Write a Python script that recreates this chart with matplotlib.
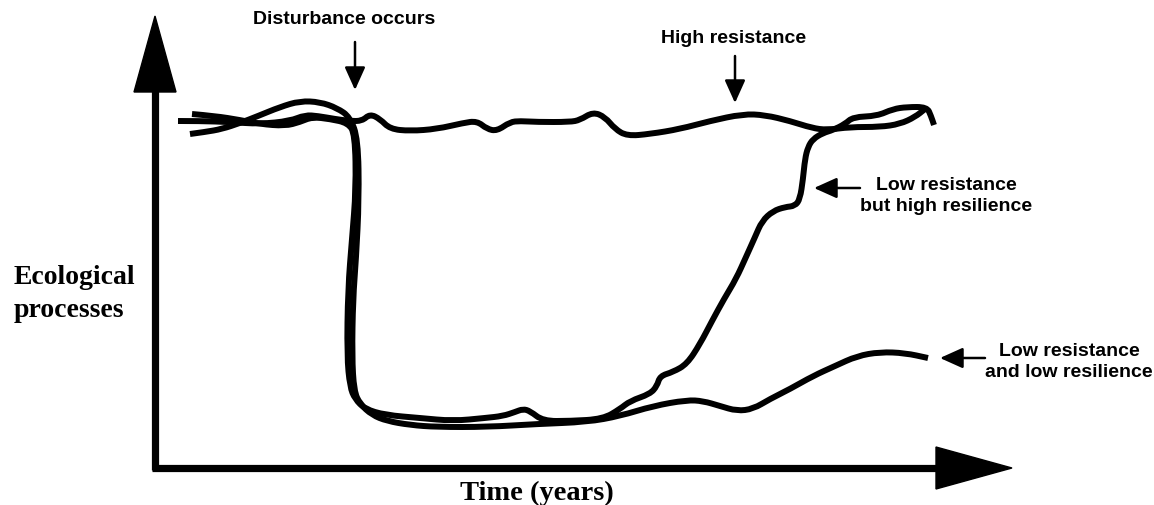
import matplotlib.pyplot as plt
from matplotlib.patches import Polygon, PathPatch
from matplotlib.path import Path

# curves, in pixel units (x right, y down)
high_x = [178, 200, 230, 260, 290, 305, 318, 335, 350, 362, 370, 380, 390, 410, 437, 463, 477, 487, 497, 510,
          520, 537, 570, 580, 593, 605, 615, 627, 650, 680, 710, 743, 765, 790, 812, 827, 850, 880, 900, 915, 925]
high_y = [122, 122, 123, 125, 122, 116, 117, 120, 122, 122, 115, 120, 130, 132, 130, 124, 122, 130, 132, 123,
          122, 123, 123, 121, 113, 118, 130, 137, 135, 130, 122, 115, 116, 122, 129, 131, 128, 128, 125, 118, 110]

resil_x = [192, 215, 240, 260, 285, 300, 312, 330, 348, 355, 356, 352, 348, 347, 350, 355, 365, 385, 420, 453,
           485, 503, 515, 523, 530, 543, 570, 603, 620, 630, 650, 657, 660, 673, 687, 700, 712, 724, 736, 746,
           755, 762, 773, 785, 795, 800, 803, 805, 808, 813, 823, 833, 845, 853, 877, 893, 907, 927, 931, 934]
resil_y = [115, 117, 121, 125, 127, 123, 118, 120, 124, 135, 190, 240, 290, 357, 388, 400, 410, 416, 419, 422,
           419, 417, 413, 410, 412, 422, 422, 420, 410, 402, 395, 387, 377, 373, 365, 345, 322, 300, 280, 258,
           238, 222, 212, 208, 207, 200, 180, 160, 148, 140, 134, 131, 125, 118, 117, 110, 108, 108, 117, 126]

low_x = [190, 205, 222, 240, 258, 280, 300, 320, 337, 350, 358, 359, 356, 353, 352, 354, 360, 372, 387, 410,
         437, 487, 537, 587, 620, 653, 687, 703, 720, 737, 753, 770, 790, 813, 835, 857, 880, 905, 928]
low_y = [135, 133, 130, 124, 117, 108, 102, 103, 109, 118, 140, 200, 260, 300, 357, 392, 405, 416, 422, 426,
         428, 428, 425, 423, 417, 407, 401, 402, 407, 412, 410, 400, 390, 377, 367, 357, 353, 354, 359]

curves = [(high_x, high_y), (resil_x, resil_y), (low_x, low_y)]

labels = ["Disturbance occurs", "High resistance", "Low resistance\nbut high resilience",
          "Low resistance\nand low resilience"]
label_pos = [(344, 19), (734, 38), (946, 196), (1069, 362)]
arrow_from = [(355, 43), (735, 57), (860, 189), (985, 359)]
arrow_to = [(355, 91), (735, 104), (814, 189), (940, 359)]


def smooth_path(xs, ys):
    # quadratic bezier through midpoints, traced points act as control points
    pts = list(zip(xs, ys))
    verts = [pts[0]]
    codes = [Path.MOVETO]
    for i in range(1, len(pts) - 1):
        mid = ((pts[i][0] + pts[i + 1][0]) / 2, (pts[i][1] + pts[i + 1][1]) / 2)
        verts += [pts[i], mid]
        codes += [Path.CURVE3, Path.CURVE3]
    verts.append(pts[-1])
    codes.append(Path.LINETO)
    return Path(verts, codes)


fig = plt.figure(figsize=(11.54, 5.06), dpi=100)
ax = fig.add_axes([0, 0, 1, 1])
ax.set_xlim(0, 1154)
ax.set_ylim(506, 0)
ax.axis("off")

for cx, cy in curves:
    ax.add_patch(PathPatch(smooth_path(cx, cy), facecolor="none", edgecolor="black", lw=4.3,
                           joinstyle="round", capstyle="butt"))

# axes with big arrowheads
ax.plot([155, 155], [471, 90], color="black", lw=5.2, solid_capstyle="butt")
ax.add_patch(Polygon([[134, 93], [176, 93], [155, 17]], closed=True, color="black"))
ax.plot([152, 940], [468.5, 468.5], color="black", lw=5.2, solid_capstyle="butt")
ax.add_patch(Polygon([[936, 448], [936, 490], [1012, 469]], closed=True, color="black"))

for txt, (lx, ly) in zip(labels, label_pos):
    ax.text(lx, ly, txt, ha="center", va="center", fontsize=14, fontweight="bold",
            family="Liberation Sans", linespacing=1.35)

for (fx, fy), (tx, ty) in zip(arrow_from, arrow_to):
    ax.annotate("", xy=(tx, ty), xytext=(fx, fy),
                arrowprops=dict(arrowstyle="-|>,head_length=1.0,head_width=0.45", color="black",
                                lw=1.8, shrinkA=0, shrinkB=0, mutation_scale=14))

ax.text(14, 294, "Ecological\nprocesses", ha="left", va="center", fontsize=20, fontweight="bold",
        family="Liberation Serif", linespacing=1.4)
ax.text(537, 493, "Time (years)", ha="center", va="center", fontsize=20.5, fontweight="bold",
        family="Liberation Serif")

fig.savefig("out.png", dpi=100)
